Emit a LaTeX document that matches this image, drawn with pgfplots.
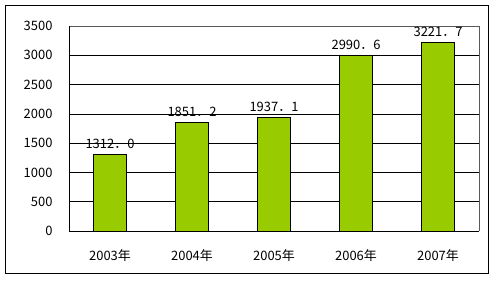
\documentclass[border=0pt]{standalone}
\usepackage{fontspec}
\setmainfont{Noto Sans CJK SC}
\usepackage{pgfplots}
\pgfplotsset{compat=1.18}
\definecolor{bargreen}{HTML}{99CC00}
\begin{document}
\begin{tikzpicture}[x=1bp,y=1bp]
\path[use as bounding box] (-69,-49) rectangle (427,231);
\draw[black,line width=0.8bp] (-64,-42) rectangle (419,226);
\begin{axis}[
  at={(0,0)}, anchor=south west,
  scale only axis, width=410bp, height=205bp,
  xmin=-0.5, xmax=4.5, ymin=0, ymax=3500,
  ytick={0,500,...,3500},
  xtick={0,1,2,3,4},
  xticklabels={2003年,2004年,2005年,2006年,2007年},
  major x tick style={draw=none},
  extra x ticks={0.5,1.5,2.5,3.5},
  extra x tick labels={},
  extra x tick style={major tick length=4bp, tick align=outside, tick style={draw=black, line width=0.6bp}},
  major y tick style={draw=none},
  ymajorgrids, grid style={black, line width=0.6bp},
  axis line style={draw=none},
  tick label style={font=\fontsize{13}{14}\selectfont},
  /pgf/number format/assume math mode=true,
  /pgf/number format/1000 sep={},
  yticklabel style={xshift=-13bp},
  xticklabel style={yshift=-11bp},
  ybar, bar width=33bp,
  nodes near coords,
  point meta=explicit symbolic,
  every node near coord/.append style={font=\fontsize{13}{14}\selectfont, yshift=2bp},
  clip=false,
]
\addplot[fill=bargreen, draw=black, line width=0.8bp] coordinates {
  (0,1312.0) [1312．0]
  (1,1851.2) [1851．2]
  (2,1937.1) [1937．1]
  (3,2990.6) [2990．6]
  (4,3221.7) [3221．7]
};
\draw[gray!70!black, line width=0.8bp] (rel axis cs:0,1) -- (rel axis cs:1,1) -- (rel axis cs:1,0);
\draw[black, line width=0.8bp] (rel axis cs:0,1) -- (rel axis cs:0,0) -- (rel axis cs:1,0);
\end{axis}
\end{tikzpicture}
\end{document}
